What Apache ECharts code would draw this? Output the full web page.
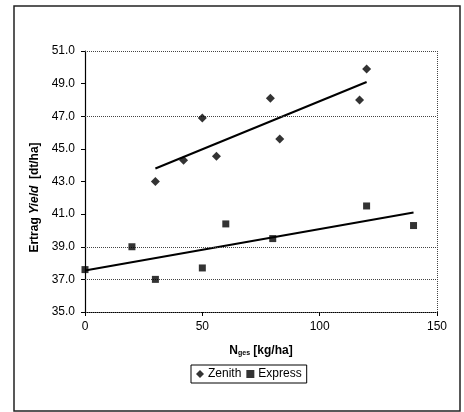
<!DOCTYPE html>
<html>
<head>
<meta charset="utf-8">
<script src="https://cdn.jsdelivr.net/npm/echarts@6/dist/echarts.min.js"></script>
<style>
html,body{margin:0;padding:0;background:#fff;}
#chart{width:464px;height:412px;}
</style>
</head>
<body>
<div id="chart"></div>
<script>
// Data
var zenithX = [30, 42, 50, 56, 79, 83, 117, 120];
var zenithY = [43.0, 44.3, 46.9, 44.55, 48.1, 45.6, 48.0, 49.9];
var expressX = [0, 20, 30, 50, 60, 80, 120, 140];
var expressY = [37.6, 39.0, 37.0, 37.7, 40.4, 39.5, 41.5, 40.3];
var zenithTrendX = [30, 120];
var zenithTrendY = [43.8, 49.1];
var expressTrendX = [0, 140];
var expressTrendY = [37.55, 41.1];
var gridLineValues = [37, 39, 47, 51];
var yTicks = {min: 35, max: 51, interval: 2};
var xTicks = {min: 0, max: 150, interval: 50};

function pairs(xs, ys) { return xs.map(function (x, i) { return [x, ys[i]]; }); }

var FONT = '"Liberation Sans", Arial, sans-serif';
var chart = echarts.init(document.getElementById('chart'), null, {renderer: 'canvas'});

var option = {
  animation: false,
  backgroundColor: '#fff',
  textStyle: {fontFamily: FONT, color: '#000'},
  graphic: [{
    type: 'rect',
    shape: {x: 14, y: 6, width: 446, height: 405},
    style: {fill: 'none', stroke: '#222', lineWidth: 1.5},
    silent: true
  }],
  grid: {left: 85, right: 27, top: 51, bottom: 100, containLabel: false},
  legend: {
    data: ['Zenith', 'Express'],
    left: 191, top: 365,
    padding: [3, 5, 3, 5],
    borderColor: '#000', borderWidth: 1,
    itemWidth: 8, itemHeight: 8, itemGap: 5,
    textStyle: {fontFamily: FONT, fontSize: 12, color: '#000', padding: [0, 0, 0, -1]}
  },
  xAxis: {
    type: 'value', min: xTicks.min, max: xTicks.max, interval: xTicks.interval,
    axisLine: {show: true, onZero: false, lineStyle: {color: '#000', type: 'dotted', width: 1}},
    axisTick: {show: true, length: 4, lineStyle: {color: '#000'}},
    axisLabel: {margin: 9, fontFamily: FONT, fontSize: 12, color: '#000'},
    splitLine: {show: false},
    name: '{b|N}{s|ges}{b| [kg/ha]}',
    nameLocation: 'middle', nameGap: 32,
    nameTextStyle: {
      rich: {
        b: {fontFamily: FONT, fontSize: 12, fontWeight: 'bold', color: '#000'},
        s: {fontFamily: FONT, fontSize: 7, fontWeight: 'bold', color: '#000', verticalAlign: 'bottom', padding: [6, 0, 0, 0]}
      }
    }
  },
  yAxis: {
    type: 'value', min: yTicks.min, max: yTicks.max, interval: yTicks.interval,
    axisLine: {show: true, onZero: false, lineStyle: {color: '#000', width: 1.2}},
    axisTick: {show: true, length: 4, lineStyle: {color: '#000'}},
    axisLabel: {margin: 10, fontFamily: FONT, fontSize: 12, color: '#000',
      formatter: function (v) { return v.toFixed(1); }},
    splitLine: {show: false},
    name: '{b|Ertrag }{i|Yield}{b|  [dt/ha]}',
    nameLocation: 'middle', nameGap: 30,
    nameTextStyle: {
      padding: [0, 32, 0, 0],
      rich: {
        b: {fontFamily: FONT, fontSize: 12, fontWeight: 'bold', color: '#000'},
        i: {fontFamily: FONT, fontSize: 12, fontWeight: 'bold', fontStyle: 'italic', color: '#000'}
      }
    }
  },
  series: [
    {
      name: 'grid', type: 'line', data: [], silent: true,
      markLine: {
        silent: true, symbol: 'none', animation: false,
        label: {show: false},
        lineStyle: {color: '#444', type: [1, 1], width: 1},
        data: gridLineValues.map(function (v) { return {yAxis: v}; }).concat([{xAxis: xTicks.max}])
      }
    },
    {
      name: 'Zenith', type: 'scatter', symbol: 'diamond', symbolSize: 9,
      itemStyle: {color: '#000'},
      data: pairs(zenithX, zenithY), z: 5
    },
    {
      name: 'Express', type: 'scatter', symbol: 'rect', symbolSize: 7,
      itemStyle: {color: '#000'},
      data: pairs(expressX, expressY), z: 5
    },
    {
      name: 'ZenithTrend', type: 'line', symbol: 'none',
      lineStyle: {color: '#000', width: 2},
      data: pairs(zenithTrendX, zenithTrendY), z: 4
    },
    {
      name: 'ExpressTrend', type: 'line', symbol: 'none',
      lineStyle: {color: '#000', width: 2},
      data: pairs(expressTrendX, expressTrendY), z: 4
    }
  ]
};
chart.setOption(option);
</script>
</body>
</html>
